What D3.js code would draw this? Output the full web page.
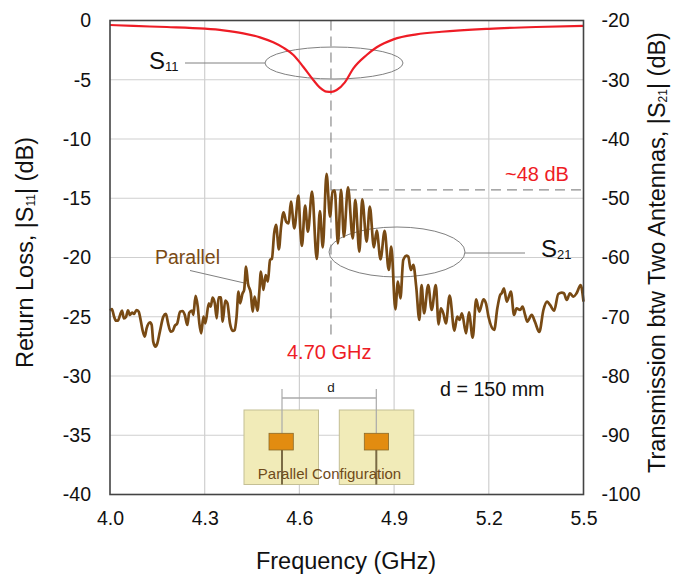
<!DOCTYPE html>
<html>
<head>
<meta charset="utf-8">
<script src="https://d3js.org/d3.v7.min.js"></script>
<style>
  html, body { margin: 0; padding: 0; background: #fff; }
  svg { display: block; font-family: "Liberation Sans", Arial, sans-serif; }
  .grid line { stroke: #cfcfcf; stroke-width: 1.2px; }
  .tick-label { font-size: 19.5px; fill: #111; }
  .axis-title { font-size: 23.5px; fill: #111; }
</style>
</head>
<body>
<div id="chart"></div>
<script>
var width = 673, height = 577;
var margin = { left: 110, right: 89.5, top: 20.5, bottom: 82.5 };

var xTicks = [4.0, 4.3, 4.6, 4.9, 5.2, 5.5];
var leftTicks = [0, -5, -10, -15, -20, -25, -30, -35, -40];
var rightTicks = [-20, -30, -40, -50, -60, -70, -80, -90, -100];

var s11Freq = [4.000, 4.074, 4.180, 4.300, 4.359, 4.422, 4.475, 4.517, 4.549, 4.581, 4.612, 4.644, 4.665, 4.686, 4.702, 4.718, 4.744, 4.771, 4.813, 4.845, 4.898, 4.971, 5.050, 5.200, 5.350, 5.500];
var s11Vals = [-0.38, -0.46, -0.55, -0.69, -0.83, -1.08, -1.42, -1.84, -2.29, -2.91, -3.90, -5.02, -5.67, -6.01, -6.03, -5.87, -5.22, -4.04, -2.91, -2.26, -1.59, -1.17, -0.95, -0.70, -0.55, -0.45];

var s21Freq = [4.000, 4.006, 4.013, 4.019, 4.025, 4.032, 4.038, 4.044, 4.051, 4.057, 4.063, 4.070, 4.076, 4.084, 4.091, 4.097, 4.103, 4.110, 4.116, 4.127, 4.132, 4.137, 4.144, 4.150, 4.158, 4.169, 4.177, 4.184, 4.192, 4.199, 4.205, 4.213, 4.222, 4.230, 4.237, 4.245, 4.251, 4.260, 4.264, 4.271, 4.278, 4.283, 4.289, 4.296, 4.302, 4.313, 4.319, 4.325, 4.332, 4.338, 4.344, 4.351, 4.357, 4.365, 4.372, 4.380, 4.389, 4.395, 4.401, 4.407, 4.412, 4.420, 4.425, 4.431, 4.437, 4.446, 4.452, 4.458, 4.467, 4.473, 4.478, 4.486, 4.493, 4.500, 4.507, 4.513, 4.520, 4.526, 4.535, 4.542, 4.550, 4.558, 4.566, 4.573, 4.584, 4.597, 4.603, 4.608, 4.618, 4.627, 4.640, 4.655, 4.665, 4.674, 4.686, 4.697, 4.705, 4.712, 4.722, 4.732, 4.741, 4.754, 4.769, 4.777, 4.790, 4.799, 4.813, 4.823, 4.836, 4.845, 4.857, 4.870, 4.883, 4.891, 4.904, 4.912, 4.920, 4.929, 4.940, 4.945, 4.953, 4.961, 4.970, 4.980, 4.987, 4.995, 5.008, 5.019, 5.032, 5.041, 5.048, 5.056, 5.064, 5.076, 5.091, 5.100, 5.107, 5.115, 5.128, 5.137, 5.149, 5.160, 5.170, 5.183, 5.191, 5.199, 5.217, 5.227, 5.236, 5.241, 5.248, 5.257, 5.270, 5.280, 5.288, 5.299, 5.307, 5.315, 5.322, 5.336, 5.346, 5.360, 5.373, 5.385, 5.394, 5.407, 5.420, 5.431, 5.438, 5.447, 5.457, 5.468, 5.478, 5.491, 5.500];
var s21Vals = [-68.97, -68.69, -69.98, -70.66, -70.66, -69.70, -68.97, -70.26, -69.98, -68.91, -69.70, -69.31, -69.53, -68.86, -69.14, -70.54, -72.23, -73.36, -71.95, -70.94, -71.39, -74.20, -75.05, -74.48, -72.51, -69.98, -69.53, -71.11, -72.51, -72.35, -71.56, -71.11, -69.14, -69.03, -69.70, -71.39, -69.31, -68.97, -69.70, -66.49, -68.29, -71.11, -72.80, -69.98, -71.11, -67.73, -68.29, -66.78, -67.73, -70.26, -66.72, -66.72, -70.83, -67.28, -67.73, -71.11, -72.40, -72.23, -69.98, -65.76, -67.73, -66.04, -65.48, -61.54, -64.36, -66.04, -69.14, -66.61, -68.97, -65.76, -62.39, -65.48, -62.95, -64.07, -60.42, -60.19, -55.92, -54.51, -58.62, -54.79, -52.37, -53.95, -54.23, -50.57, -55.07, -49.56, -55.35, -58.05, -51.25, -55.64, -48.89, -60.25, -52.15, -58.28, -45.90, -53.10, -48.89, -48.72, -57.61, -48.60, -56.48, -48.15, -56.76, -50.29, -59.01, -50.18, -57.32, -51.42, -58.28, -55.47, -60.31, -55.52, -62.11, -58.17, -68.74, -64.07, -66.89, -60.42, -59.69, -59.86, -62.11, -61.26, -64.92, -70.54, -64.64, -69.42, -64.64, -68.86, -64.64, -71.28, -68.58, -69.42, -71.11, -66.44, -72.35, -69.98, -70.54, -69.42, -72.80, -69.25, -73.53, -67.06, -69.14, -67.06, -67.73, -69.98, -72.23, -68.58, -66.33, -66.04, -65.20, -67.45, -65.76, -69.70, -68.58, -68.86, -68.29, -69.70, -70.83, -69.70, -70.83, -72.57, -68.86, -67.45, -68.01, -68.97, -66.16, -65.93, -66.04, -67.17, -66.04, -66.61, -66.04, -64.64, -67.45];

var svg = d3.select("#chart").append("svg")
    .attr("width", width)
    .attr("height", height);

var x = d3.scaleLinear().domain([4.0, 5.5]).range([margin.left, width - margin.right]);
var yL = d3.scaleLinear().domain([-40, 0]).range([height - margin.bottom, margin.top]);
var yR = d3.scaleLinear().domain([-100, -20]).range([height - margin.bottom, margin.top]);

// gridlines
var grid = svg.append("g").attr("class", "grid");
grid.selectAll(".gx").data(xTicks.slice(1, -1)).enter().append("line")
    .attr("x1", x).attr("x2", x)
    .attr("y1", margin.top).attr("y2", height - margin.bottom);
grid.selectAll(".gy").data(leftTicks.slice(1, -1)).enter().append("line")
    .attr("x1", margin.left).attr("x2", width - margin.right)
    .attr("y1", yL).attr("y2", yL);

// inset drawing, sits on top of the grid but under the frame
var inset = svg.append("g");
[[244, 282], [339.3, 376.3]].forEach(function(p) {
  var px = p[0], feed = p[1];
  inset.append("rect").attr("x", px).attr("y", 410).attr("width", 74.5).attr("height", 74.5)
      .attr("fill", "#f1ebb8").attr("stroke", "#c4bf94").attr("stroke-width", 1);
  inset.append("line").attr("x1", feed).attr("x2", feed).attr("y1", 389).attr("y2", 433.3)
      .attr("stroke", "#aaa").attr("stroke-width", 1.2);
  inset.append("line").attr("x1", feed).attr("x2", feed).attr("y1", 450).attr("y2", 484.5)
      .attr("stroke", "#7a6a45").attr("stroke-width", 2);
  inset.append("rect").attr("x", px + 25).attr("y", 433.3).attr("width", 24.3).attr("height", 16.7)
      .attr("fill", "#e28c10").attr("stroke", "#8a6a2a").attr("stroke-width", 0.8);
});
inset.append("line").attr("x1", 282).attr("x2", 376.3).attr("y1", 398).attr("y2", 398)
    .attr("stroke", "#aaa").attr("stroke-width", 1.5);
inset.append("text").attr("x", 331).attr("y", 392).attr("text-anchor", "middle")
    .attr("font-size", 13.5).attr("fill", "#222").text("d");
inset.append("text").attr("x", 329.5).attr("y", 479).attr("text-anchor", "middle")
    .attr("font-size", 15).attr("fill", "#6e4a1a").text("Parallel Configuration");

// ellipses and leaders
var anno = svg.append("g").attr("fill", "none").attr("stroke", "#808080").attr("stroke-width", 1);
anno.append("ellipse").attr("cx", 334).attr("cy", 63).attr("rx", 69).attr("ry", 16);
anno.append("line").attr("x1", 185).attr("x2", 265).attr("y1", 63).attr("y2", 63);
anno.append("ellipse").attr("cx", 397).attr("cy", 252).attr("rx", 68).attr("ry", 25);
anno.append("line").attr("x1", 465).attr("x2", 525).attr("y1", 253).attr("y2", 253);
anno.append("line").attr("x1", 190).attr("x2", 246.5).attr("y1", 270.5).attr("y2", 283.5);

// dashed markers
var dash = svg.append("g").attr("stroke", "#8c8c8c").attr("stroke-width", 1.2).attr("stroke-dasharray", "10,6");
dash.append("line").attr("x1", x(4.7)).attr("x2", x(4.7)).attr("y1", margin.top).attr("y2", 336);
dash.append("line").attr("x1", x(4.7)).attr("x2", x(5.5)).attr("y1", yR(-48.6)).attr("y2", yR(-48.6));

// curves
var s21Line = d3.line()
    .x(function(d, i) { return x(s21Freq[i]); })
    .y(function(d) { return yR(d); })
    .curve(d3.curveMonotoneX);
svg.append("path").datum(s21Vals)
    .attr("fill", "none").attr("stroke", "#784a14").attr("stroke-width", 2.7)
    .attr("stroke-linejoin", "round").attr("d", s21Line);

var s11Line = d3.line()
    .x(function(d, i) { return x(s11Freq[i]); })
    .y(function(d) { return yL(d); })
    .curve(d3.curveMonotoneX);
svg.append("path").datum(s11Vals)
    .attr("fill", "none").attr("stroke", "#ee1c25").attr("stroke-width", 2.2)
    .attr("d", s11Line);

// frame
svg.append("rect")
    .attr("x", margin.left).attr("y", margin.top)
    .attr("width", width - margin.left - margin.right)
    .attr("height", height - margin.top - margin.bottom)
    .attr("fill", "none").attr("stroke", "#444").attr("stroke-width", 1.6);

// axes
var xAxis = svg.append("g").attr("transform", "translate(0," + (height - margin.bottom) + ")")
    .call(d3.axisBottom(x).tickValues(xTicks).tickFormat(d3.format(".1f")).tickSize(0).tickPadding(17));
var leftAxis = svg.append("g").attr("transform", "translate(" + margin.left + ",0)")
    .call(d3.axisLeft(yL).tickValues(leftTicks).tickSize(0).tickPadding(19).tickFormat(String));
var rightAxis = svg.append("g").attr("transform", "translate(" + (width - margin.right) + ",0)")
    .call(d3.axisRight(yR).tickValues(rightTicks).tickSize(0).tickPadding(18).tickFormat(String));
[xAxis, leftAxis, rightAxis].forEach(function(a) {
  a.select(".domain").remove();
  a.selectAll("text").attr("class", "tick-label")
      .style("font-family", "'Liberation Sans', Arial, sans-serif");
});

// titles, the S parameter gets a small subscript
function rotatedTitle(px, py, before, sub, after) {
  var t = svg.append("text").attr("class", "axis-title").attr("text-anchor", "middle")
      .attr("transform", "translate(" + px + "," + py + ") rotate(-90)");
  t.append("tspan").text(before);
  t.append("tspan").attr("font-size", 12).attr("dy", 2).text(sub);
  t.append("tspan").attr("dy", -2).text(after);
}
svg.append("text").attr("class", "axis-title").attr("x", 346).attr("y", 569)
    .attr("text-anchor", "middle").text("Frequency (GHz)");
rotatedTitle(33, 252.5, "Return Loss, |S", "11", "| (dB)");
rotatedTitle(665, 252.5, "Transmission btw Two Antennas, |S", "21", "| (dB)");

// curve labels
function subLabel(px, py, sub) {
  var t = svg.append("text").attr("x", px).attr("y", py).attr("fill", "#111").attr("font-size", 24);
  t.append("tspan").text("S");
  t.append("tspan").attr("font-size", 13).attr("dy", 2).text(sub);
}
subLabel(149, 69, "11");
subLabel(541, 257, "21");
svg.append("text").attr("x", 155).attr("y", 264).attr("font-size", 19.5).attr("fill", "#7a4a14").text("Parallel");
svg.append("text").attr("x", 505).attr("y", 181).attr("font-size", 20).attr("fill", "#ee1c25").text("~48 dB");
svg.append("text").attr("x", 287).attr("y", 359).attr("font-size", 20).attr("fill", "#ee1c25").text("4.70 GHz");
svg.append("text").attr("x", 440).attr("y", 396).attr("font-size", 19.7).attr("fill", "#111").text("d = 150 mm");
</script>
</body>
</html>
